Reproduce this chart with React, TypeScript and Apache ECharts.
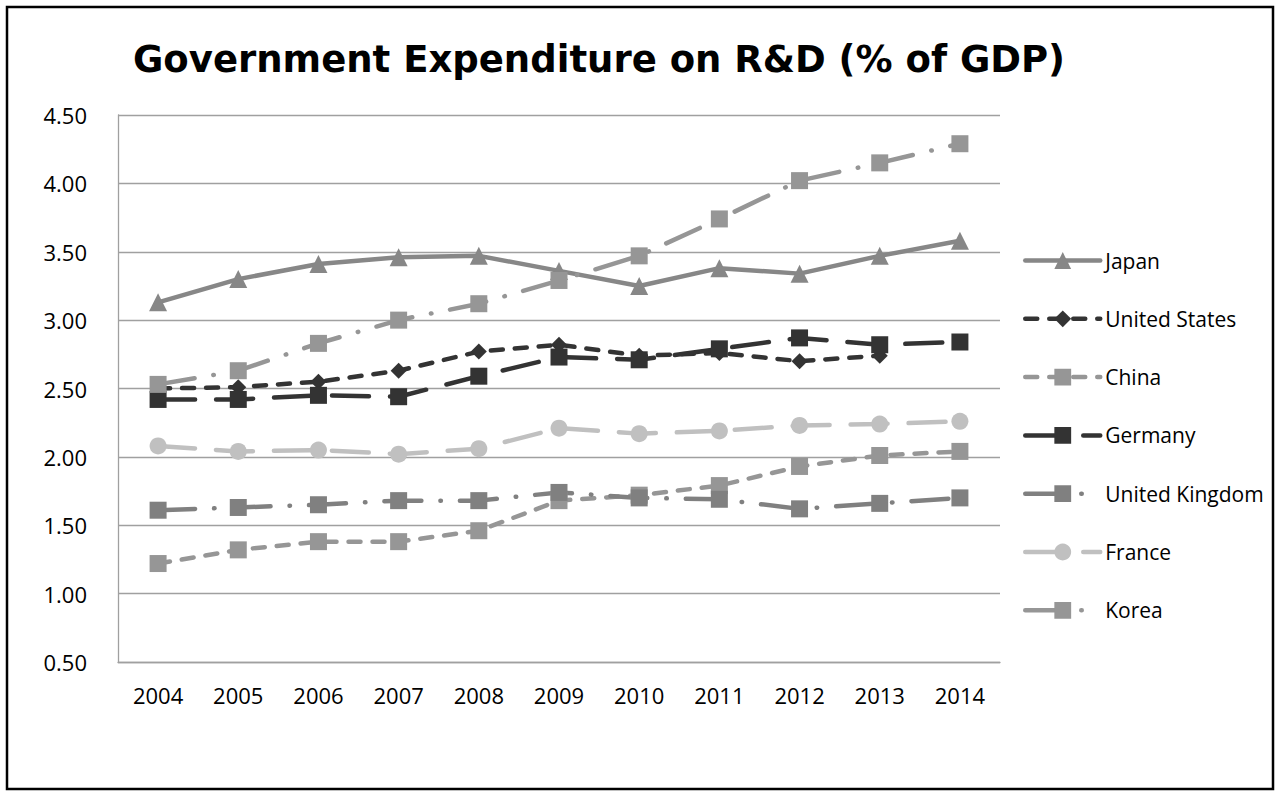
import React, { useEffect, useRef } from "react";
import * as echarts from "echarts";

const years = ["2004", "2005", "2006", "2007", "2008", "2009", "2010", "2011", "2012", "2013", "2014"];
const japan = [3.13, 3.3, 3.41, 3.46, 3.47, 3.36, 3.25, 3.38, 3.34, 3.47, 3.58];
const unitedStates = [2.5, 2.51, 2.55, 2.63, 2.77, 2.82, 2.74, 2.76, 2.7, 2.74, null];
const china = [1.22, 1.32, 1.38, 1.38, 1.46, 1.68, 1.72, 1.79, 1.93, 2.01, 2.04];
const germany = [2.42, 2.42, 2.45, 2.44, 2.59, 2.73, 2.71, 2.79, 2.87, 2.82, 2.84];
const unitedKingdom = [1.61, 1.63, 1.65, 1.68, 1.68, 1.74, 1.7, 1.69, 1.62, 1.66, 1.7];
const france = [2.08, 2.04, 2.05, 2.02, 2.06, 2.21, 2.17, 2.19, 2.23, 2.24, 2.26];
const korea = [2.53, 2.63, 2.83, 3.0, 3.12, 3.29, 3.47, 3.74, 4.02, 4.15, 4.29];

const FONT = "'Open Sans', 'Liberation Sans', sans-serif";
const LW = 4.5;

function mk(name: string, data: (number | null)[], color: string, symbol: string, size: number, dash: any) {
  return {
    name,
    type: "line",
    data,
    symbol,
    symbolSize: size,
    showSymbol: true,
    itemStyle: { color },
    lineStyle: { color, width: LW, type: dash, cap: "round" },
  };
}

export default function App() {
  const ref = useRef<HTMLDivElement>(null);
  useEffect(() => {
    const chart = echarts.init(ref.current!, undefined, { renderer: "svg" });
    const shortDash = [12, 12];
    const longDash = [37, 21];
    const longDashDot = [37, 19, 0.5, 19];
    chart.setOption({
      animation: false,
      backgroundColor: "#ffffff",
      textStyle: { fontFamily: FONT },
      graphic: [
        {
          type: "rect",
          shape: { x: 7, y: 7, width: 1266, height: 782 },
          style: { fill: "none", stroke: "#000", lineWidth: 2.5 },
          z: 100,
        },
        {
          type: "text",
          x: 599,
          y: 59,
          style: {
            text: "Government Expenditure on R&D (% of GDP)",
            font: "bold 37px 'DejaVu Sans', sans-serif",
            fill: "#000",
            textAlign: "center",
            textVerticalAlign: "middle",
          },
        },
      ],
      grid: { left: 118, right: 276, top: 115, bottom: 129, containLabel: false },
      legend: {
        orient: "vertical",
        left: 1023,
        top: 250,
        padding: 0,
        itemWidth: 75,
        itemHeight: 21,
        itemGap: 37.3,
        lineStyle: { width: 4.5, cap: "round" },
        textStyle: { fontSize: 21, color: "#000", fontFamily: FONT, lineHeight: 21 },
        data: ["Japan", "United States", "China", "Germany", "United Kingdom", "France", "Korea"],
      },
      xAxis: {
        type: "category",
        data: years,
        boundaryGap: true,
        axisLine: { show: true, lineStyle: { color: "#a0a0a0", width: 1.3 } },
        axisTick: { show: false },
        axisLabel: { fontSize: 22, color: "#000", margin: 22, fontFamily: FONT },
      },
      yAxis: {
        type: "value",
        min: 0.5,
        max: 4.5,
        interval: 0.5,
        axisLine: { show: true, lineStyle: { color: "#a0a0a0", width: 1.3 } },
        axisTick: { show: false },
        splitLine: { show: true, lineStyle: { color: "#a0a0a0", width: 1.3 } },
        axisLabel: {
          fontSize: 22,
          color: "#000",
          margin: 31,
          fontFamily: FONT,
          formatter: (v: number) => v.toFixed(2),
        },
      },
      series: [
        mk("Japan", japan, "#878787", "triangle", 18, "solid"),
        mk("United States", unitedStates, "#333333", "diamond", 16, shortDash),
        mk("China", china, "#969696", "rect", 17, shortDash),
        mk("Germany", germany, "#333333", "rect", 17, longDash),
        mk("United Kingdom", unitedKingdom, "#808080", "rect", 17, longDashDot),
        mk("France", france, "#c0c0c0", "circle", 17, longDash),
        mk("Korea", korea, "#969696", "rect", 17, longDashDot),
      ],
    });
    return () => chart.dispose();
  }, []);
  return (
    <div
      ref={ref}
      style={{ position: "absolute", left: 0, top: 0, width: 1276, height: 791, background: "#fff" }}
    />
  );
}
